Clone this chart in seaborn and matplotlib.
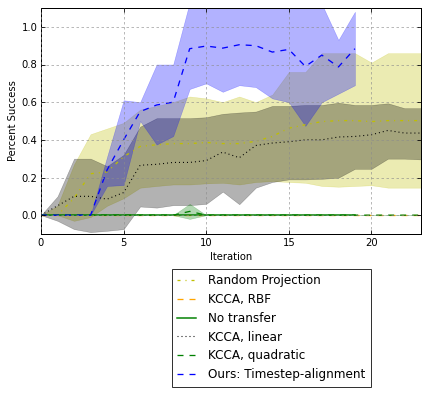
import numpy as np
import pandas as pd
import matplotlib
matplotlib.use("Agg")
import matplotlib.pyplot as plt
import seaborn as sns

# ---------------- data ----------------
iters = list(range(24))
iters_ours = list(range(20))

rp_mean = [0, 0.0, 0.09, 0.22, 0.23, 0.31, 0.365, 0.374, 0.38, 0.38, 0.386, 0.38,
           0.38, 0.392, 0.418, 0.462, 0.48, 0.497, 0.502, 0.502, 0.497, 0.502, 0.502, 0.502]
rp_low = [0, 0.0, -0.03, -0.01, 0.05, 0.09, 0.146, 0.155, 0.163, 0.163, 0.169, 0.172,
          0.163, 0.176, 0.181, 0.176, 0.172, 0.155, 0.151, 0.155, 0.159, 0.146, 0.146, 0.146]
rp_high = [0, 0.05, 0.27, 0.43, 0.46, 0.49, 0.56, 0.58, 0.60, 0.63, 0.62, 0.60,
           0.63, 0.60, 0.64, 0.76, 0.76, 0.86, 0.86, 0.86, 0.81, 0.86, 0.86, 0.86]

rbf_mean = [0.0] * 24

none_mean = [0.0] * 20

lin_mean = [0, 0.05, 0.10, 0.10, 0.085, 0.12, 0.265, 0.27, 0.28, 0.28, 0.29, 0.335,
            0.305, 0.37, 0.383, 0.39, 0.40, 0.40, 0.415, 0.418, 0.427, 0.45, 0.436, 0.436]
lin_low = [0, -0.03, -0.074, -0.09, -0.083, -0.074, 0.046, 0.04, 0.053, 0.053, 0.06, 0.125,
           0.058, 0.146, 0.176, 0.19, 0.19, 0.193, 0.199, 0.246, 0.246, 0.30, 0.30, 0.296]
lin_high = [0, 0.10, 0.30, 0.30, 0.26, 0.32, 0.47, 0.515, 0.515, 0.515, 0.52, 0.538,
            0.545, 0.55, 0.58, 0.58, 0.585, 0.585, 0.597, 0.585, 0.585, 0.594, 0.568, 0.568]

quad_mean = [0, 0, 0, 0, 0, 0, 0, 0, 0, 0.02, 0, 0, 0, 0, 0, 0, 0, 0, 0, 0, 0, 0, 0, 0]
quad_low = [0, 0, 0, 0, 0, 0, 0, 0, 0, -0.02, 0, 0, 0, 0, 0, 0, 0, 0, 0, 0, 0, 0, 0, 0]
quad_high = [0, 0, 0, 0, 0, 0, 0, 0, 0, 0.06, 0, 0, 0, 0, 0, 0, 0, 0, 0, 0, 0, 0, 0, 0]

ours_mean = [0, 0, 0, 0, 0.24, 0.40, 0.55, 0.585, 0.60, 0.884, 0.898, 0.887, 0.905, 0.90,
             0.866, 0.88, 0.79, 0.85, 0.787, 0.884]
ours_low = [0, 0, 0, 0, 0.155, 0.16, 0.50, 0.375, 0.42, 0.67, 0.70, 0.655, 0.69, 0.68,
            0.62, 0.60, 0.474, 0.60, 0.645, 0.69]
ours_high = [0, 0, 0, 0, 0.31, 0.61, 0.60, 0.80, 0.80, 1.13, 1.2, 1.2, 1.2, 1.2,
             1.2, 1.2, 1.2, 1.12, 0.93, 1.08]

labels = ["Random Projection", "KCCA, RBF", "No transfer", "KCCA, linear",
          "KCCA, quadratic", "Ours: Timestep-alignment"]
xticks = [0, 5, 10, 15, 20]
yticks = [0.0, 0.2, 0.4, 0.6, 0.8, 1.0]

# ---------------- style ----------------
plt.rcParams.update({
    "font.family": ["DejaVu Sans"],
    "lines.scale_dashes": False,
    "lines.dashed_pattern": [6, 6],
    "lines.dotted_pattern": [1, 3],
    "lines.dashdot_pattern": [3, 5, 1, 5],
    "xtick.direction": "in",
    "ytick.direction": "in",
    "xtick.top": True,
    "ytick.right": True,
    "xtick.major.size": 4,
    "ytick.major.size": 4,
    "axes.linewidth": 1.0,
})

DPI = 72
fig = plt.figure(figsize=(428 / DPI, 395 / DPI), dpi=DPI)
ax = fig.add_axes([41 / 428, 1 - 234 / 395, 380 / 428, 226 / 395])

alpha = 0.3
series = [
    (iters, rp_mean, rp_low, rp_high, "y", "-.", 1.3),
    (iters, rbf_mean, None, None, "orange", "--", 1.3),
    (iters_ours, none_mean, None, None, "g", "-", 1.5),
    (iters, lin_mean, lin_low, lin_high, "k", ":", 1.1),
    (iters, quad_mean, quad_low, quad_high, "g", "--", 1.3),
    (iters_ours, ours_mean, ours_low, ours_high, "b", "--", 1.3),
]

for (xs, m, lo, hi, c, ls, lw), lab in zip(series, labels):
    if lo is not None:
        ax.fill_between(xs, lo, hi, color=c, alpha=alpha, linewidth=0.5,
                        edgecolor=c)
    df = pd.DataFrame({"x": xs, "y": m})
    sns.lineplot(data=df, x="x", y="y", ax=ax, color=c, linestyle=ls,
                 linewidth=lw, label=lab, legend=False)

ax.set_xlim(0, 23)
ax.set_ylim(-0.1, 1.1)
ax.set_xticks(xticks)
ax.set_yticks(yticks)
ax.set_xticklabels([str(t) for t in xticks], fontsize=10)
ax.set_yticklabels([f"{t:.1f}" for t in yticks], fontsize=10)
ax.grid(True, color="0.55", linestyle=(0, (2.5, 2.5)), linewidth=0.6)
ax.set_axisbelow(False)
ax.set_xlabel("Iteration", fontsize=10)
ax.set_ylabel("Percent Success", fontsize=10)

handles, labs = ax.get_legend_handles_labels()
leg = ax.legend(handles, labs, loc="upper center", bbox_to_anchor=(0.6066, -0.1549),
                borderaxespad=0, fontsize=12, frameon=True, fancybox=False,
                edgecolor="black", handlelength=1.6, handletextpad=1.0,
                labelspacing=0.48, borderpad=0.45)
leg.get_frame().set_linewidth(1.0)

fig.savefig("out.png", dpi=DPI)
